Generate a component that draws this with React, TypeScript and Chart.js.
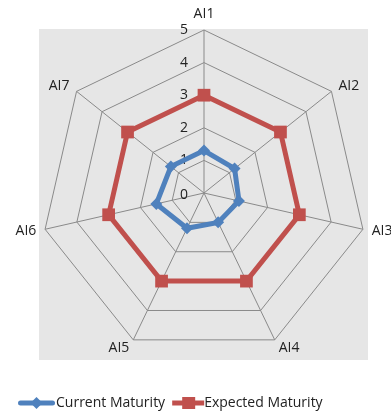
import React, { useEffect, useRef } from "react";
import { Chart, registerables } from "chart.js";

Chart.register(...registerables);

const axisLabels = ["AI1", "AI2", "AI3", "AI4", "AI5", "AI6", "AI7"];
const currentMaturity = [1.3, 1.2, 1.1, 1.0, 1.2, 1.5, 1.3];
const expectedMaturity = [3, 3, 3, 3, 3, 3, 3];
const tickValues = [0, 1, 2, 3, 4, 5];
const seriesNames = ["Current Maturity", "Expected Maturity"];

const BLUE = "#4f81bd";
const RED = "#c0504d";
const GRID = "#8a8a8a";
const TEXT = "#222222";
const FONT = "'Open Sans', 'Noto Sans', sans-serif";

function makeIcon(color: string, kind: "diamond" | "square") {
  const c = document.createElement("canvas");
  if (kind === "diamond") {
    c.width = 37;
    c.height = 14;
    const ctx = c.getContext("2d")!;
    ctx.strokeStyle = color;
    ctx.fillStyle = color;
    ctx.lineWidth = 5;
    ctx.lineCap = "round";
    ctx.beginPath();
    ctx.moveTo(2.5, 7);
    ctx.lineTo(34.5, 7);
    ctx.stroke();
    ctx.beginPath();
    ctx.moveTo(18.5, 1);
    ctx.lineTo(24.5, 7);
    ctx.lineTo(18.5, 13);
    ctx.lineTo(12.5, 7);
    ctx.closePath();
    ctx.fill();
  } else {
    c.width = 45;
    c.height = 14;
    const ctx = c.getContext("2d")!;
    ctx.strokeStyle = color;
    ctx.fillStyle = color;
    ctx.lineWidth = 5;
    ctx.lineCap = "butt";
    ctx.beginPath();
    ctx.moveTo(10, 7);
    ctx.lineTo(42, 7);
    ctx.stroke();
    ctx.fillRect(20, 1, 13, 12);
  }
  return c;
}

const decorPlugin = {
  id: "decor",
  beforeDraw(chart: any) {
    const s = chart.scales.r;
    const ctx = chart.ctx;
    ctx.save();
    ctx.fillStyle = "#e6e6e6";
    ctx.fillRect(s.xCenter - 165, s.yCenter - 164, 329, 331);
    ctx.restore();
  },
  beforeDatasetsDraw(chart: any) {
    const s = chart.scales.r;
    const ctx = chart.ctx;
    ctx.save();
    ctx.font = `14px ${FONT}`;
    ctx.fillStyle = TEXT;
    ctx.textAlign = "right";
    ctx.textBaseline = "middle";
    tickValues.forEach((v) => {
      const y = s.yCenter - s.getDistanceFromCenterForValue(v);
      ctx.fillText(String(v), s.xCenter - 16, y + (v === 0 ? 2 : 0));
    });
    ctx.restore();
  },
  afterDraw(chart: any) {
    const s = chart.scales.r;
    const ctx = chart.ctx;
    ctx.save();
    ctx.font = `14px ${FONT}`;
    ctx.fillStyle = TEXT;
    axisLabels.forEach((lab, i) => {
      const p = s.getPointPosition(i, s.drawingArea + 9);
      const dx = p.x - s.xCenter;
      const dy = p.y - s.yCenter;
      if (Math.abs(dx) < 1) {
        ctx.textAlign = "center";
        ctx.textBaseline = dy < 0 ? "bottom" : "top";
      } else {
        ctx.textAlign = dx > 0 ? "left" : "right";
        ctx.textBaseline = "middle";
      }
      ctx.fillText(lab, p.x, p.y);
    });
    ctx.restore();
  },
};

export default function App() {
  const ref = useRef<HTMLCanvasElement | null>(null);

  useEffect(() => {
    if (!ref.current) return;
    const icons = [makeIcon(BLUE, "diamond"), makeIcon(RED, "square")];
    const chart = new Chart(ref.current, {
      type: "radar",
      data: {
        labels: axisLabels,
        datasets: [
          {
            label: seriesNames[0],
            data: currentMaturity,
            borderColor: BLUE,
            backgroundColor: BLUE,
            fill: false,
            borderWidth: 5,
            pointStyle: "rectRot",
            pointRadius: 6,
            pointBackgroundColor: BLUE,
            pointBorderColor: BLUE,
            pointBorderWidth: 0,
          },
          {
            label: seriesNames[1],
            data: expectedMaturity,
            borderColor: RED,
            backgroundColor: RED,
            fill: false,
            borderWidth: 5,
            pointStyle: "rect",
            pointRadius: 9,
            pointBackgroundColor: RED,
            pointBorderColor: RED,
            pointBorderWidth: 0,
          },
        ],
      },
      options: {
        animation: false,
        responsive: false,
        layout: { autoPadding: false, padding: { left: 17, right: 0, top: 30, bottom: 0 } },
        elements: { line: { tension: 0 } },
        scales: {
          r: {
            min: 0,
            max: 5,
            ticks: { display: false, stepSize: 1 },
            pointLabels: { display: false },
            grid: { color: GRID, lineWidth: 1, circular: false },
            angleLines: { color: GRID, lineWidth: 1 },
          },
        },
        plugins: {
          tooltip: { enabled: false },
          legend: {
            position: "bottom",
            align: "start",
            title: {
              display: true,
              text: " ",
              font: { size: 10, lineHeight: 1 },
              padding: { top: 11, bottom: 12 },
            },
            labels: {
              usePointStyle: true,
              pointStyleWidth: 25,
              padding: 7,
              color: TEXT,
              font: { family: FONT, size: 14 },
              generateLabels: (ch: any) =>
                ch.data.datasets.map((ds: any, i: number) => ({
                  text: ds.label,
                  pointStyle: icons[i],
                  fillStyle: ds.borderColor,
                  strokeStyle: ds.borderColor,
                  lineWidth: 0,
                  hidden: false,
                  datasetIndex: i,
                  fontColor: TEXT,
                })),
            },
          },
        },
      },
      plugins: [decorPlugin],
    });
    return () => chart.destroy();
  }, []);

  return (
    <div
      style={{
        position: "absolute",
        left: 0,
        top: 0,
        width: 391,
        height: 414,
        overflow: "hidden",
      }}
    >
      <canvas ref={ref} width={391} height={420} style={{ display: "block" }} />
    </div>
  );
}
